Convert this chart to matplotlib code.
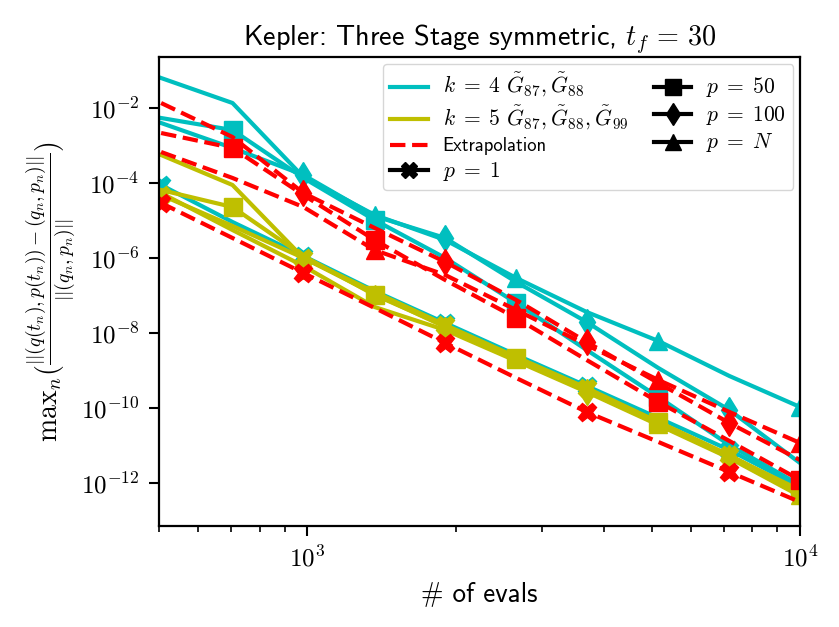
import matplotlib
matplotlib.use("Agg")
import matplotlib.pyplot as plt
from matplotlib.lines import Line2D
from matplotlib.ticker import FixedLocator, NullLocator, FuncFormatter
import math

plt.rcParams['font.family'] = ['cmss10', 'DejaVu Sans']
plt.rcParams['mathtext.fontset'] = 'cm'
plt.rcParams['axes.unicode_minus'] = False

# x: number of function evaluations
evals = [505, 705, 982, 1370, 1905, 2655, 3690, 5160, 7190, 10000]

p_labels = [r'$p\;=\;1$', r'$p\;=\;50$', r'$p\;=\;100$', r'$p\;=\;N$']
p_markers = ['X', 's', 'd', '^']

# k = 4 (cyan): errors for p = 1, 50, 100, N
k4_p1   = [8.95e-5, 9.20e-6, 1.14e-6, 1.32e-7, 1.85e-8, 2.59e-9, 3.85e-10, 5.37e-11, 7.52e-12, 7.73e-13]
k4_p50  = [5.51e-3, 2.63e-3, 1.38e-4, 1.04e-5, 1.01e-6, 6.33e-8, 3.52e-9, 1.95e-10, 1.02e-11, 8.73e-13]
k4_p100 = [4.05e-3, 8.71e-4, 1.66e-4, 1.33e-5, 3.44e-6, 2.30e-7, 1.97e-8, 1.16e-9, 8.79e-11, 3.38e-12]
k4_pN   = [6.44e-2, 1.385e-2, 1.465e-4, 1.42e-5, 3.04e-6, 2.94e-7, 3.64e-8, 6.11e-9, 7.11e-10, 1.06e-10]

# k = 5 (olive)
k5_p1   = [4.84e-5, 7.20e-6, 1.01e-6, 1.24e-7, 1.64e-8, 2.29e-9, 3.40e-10, 4.20e-11, 5.52e-12, 5.68e-13]
k5_p50  = [6.58e-5, 2.31e-5, 1.14e-6, 1.035e-7, 1.54e-8, 2.15e-9, 3.01e-10, 4.20e-11, 5.20e-12, 6.43e-13]
k5_p100 = [5.47e-5, 5.62e-6, 6.15e-7, 4.94e-8, 1.20e-8, 1.79e-9, 2.66e-10, 3.49e-11, 4.59e-12, 4.44e-13]
k5_pN   = [5.66e-4, 8.95e-5, 1.01e-6, 1.10e-7, 1.45e-8, 2.02e-9, 2.83e-10, 3.72e-11, 4.89e-12, 4.72e-13]

# Extrapolation (red dashed)
ex_p1   = [2.96e-5, 3.44e-6, 4.00e-7, 4.66e-8, 5.41e-9, 6.29e-10, 7.78e-11, 1.23e-11, 1.94e-12, 3.07e-13]
ex_p50  = [2.19e-3, 8.71e-4, 4.84e-5, 3.04e-6, 2.60e-7, 2.51e-8, 1.90e-9, 1.44e-10, 1.31e-11, 1.19e-12]
ex_p100 = [1.385e-2, 1.71e-3, 5.47e-5, 6.37e-6, 7.87e-7, 7.60e-8, 5.75e-9, 4.62e-10, 3.95e-11, 4.06e-12]
ex_pN   = [6.81e-4, 1.38e-4, 2.31e-5, 1.64e-6, 3.54e-7, 4.11e-8, 4.78e-9, 5.56e-10, 7.78e-11, 1.16e-11]

y_ticks = [1e-12, 1e-10, 1e-8, 1e-6, 1e-4, 1e-2]

groups = [
    ('c', '-', [k4_p1, k4_p50, k4_p100, k4_pN]),
    ('y', '-', [k5_p1, k5_p50, k5_p100, k5_pN]),
    ('r', '--', [ex_p1, ex_p50, ex_p100, ex_pN]),
]

fig = plt.figure(figsize=(8.39, 6.27), dpi=100)
ax = fig.add_axes([0.1895, 0.161, 0.764, 0.7476])

LW = 3.0
MS = 13
for color, ls, series in groups:
    for i, ys in enumerate(series):
        ax.plot(evals, ys, color=color, linestyle=ls, linewidth=LW,
                marker=p_markers[i], markersize=MS, markevery=(i, 2))

ax.set_xscale('log')
ax.set_yscale('log')
ax.set_xlim(500, 10000)
ax.set_ylim(7e-14, 0.23)
ax.yaxis.set_major_locator(FixedLocator(y_ticks))
ax.yaxis.set_minor_locator(NullLocator())


def pow_fmt(v, pos):
    if v <= 0:
        return ''
    e = math.log10(v)
    if abs(e - round(e)) > 1e-6:
        return ''
    return r'$10^{%d}$' % int(round(e))


ax.xaxis.set_major_formatter(FuncFormatter(pow_fmt))
ax.xaxis.set_minor_formatter(FuncFormatter(lambda v, p: ''))
ax.yaxis.set_major_formatter(FuncFormatter(pow_fmt))

for s in ax.spines.values():
    s.set_linewidth(1.6)
ax.tick_params(which='major', length=7, width=1.5, labelsize=18, pad=7)
ax.tick_params(which='minor', length=4.5, width=1.2)

ax.set_title(r'Kepler: Three Stage symmetric, $t_f\,=\,30$', fontsize=20.3, pad=9)
ax.set_xlabel('# of evals', fontsize=19.5, labelpad=8)
ax.set_ylabel(r'$\mathrm{max}_n(\frac{||(q(t_n),p(t_n))-(q_n,p_n)||}{||(q_n,p_n)||})$',
              fontsize=20, labelpad=2)

handles = [
    Line2D([], [], color='c', lw=LW, label=r'$k\;=\;4\ \tilde{G}_{87}, \tilde{G}_{88}$'),
    Line2D([], [], color='y', lw=LW, label=r'$k\;=\;5\ \tilde{G}_{87}, \tilde{G}_{88}, \tilde{G}_{99}$'),
    Line2D([], [], color='r', lw=LW, ls='--', label='Extrapolation'),
]
for lab, m in zip(p_labels, p_markers):
    handles.append(Line2D([], [], color='k', lw=LW, marker=m, markersize=MS * 0.85, label=lab))

leg = ax.legend(handles=handles, ncol=2, loc='upper right', fontsize=13.4,
                borderaxespad=0.35, columnspacing=1.4, handlelength=2.0,
                labelspacing=0.25, borderpad=0.4)
for t in leg.get_texts():
    if t.get_text().startswith('$'):
        t.set_fontsize(15.5)

fig.savefig('out.png', dpi=100)
